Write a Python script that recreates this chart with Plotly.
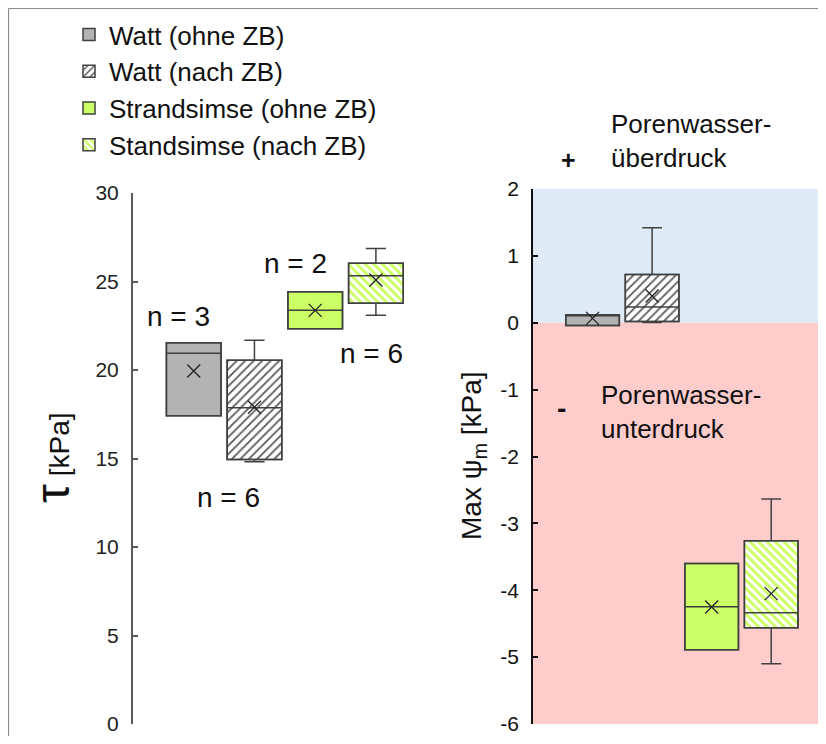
import plotly.graph_objects as go

# ---------------- data ----------------
series = ["Watt (ohne ZB)", "Watt (nach ZB)", "Strandsimse (ohne ZB)", "Standsimse (nach ZB)"]
positions = [1, 2, 3, 4]

# left panel: tau [kPa]
tau_lower = [17.42, 14.82, 22.33, 23.09]
tau_q1 = [17.42, 14.95, 22.33, 23.77]
tau_median = [20.94, 17.87, 23.37, 25.33]
tau_q3 = [21.54, 20.55, 24.42, 26.03]
tau_upper = [21.54, 21.68, 24.42, 26.87]
tau_mean = [19.94, 17.90, 23.37, 25.08]
n_labels = ["n = 3", "n = 6", "n = 2", "n = 6"]
n_label_x = [0.75, 1.58, 2.68, 3.93]
n_label_y = [23.0, 12.8, 26.0, 20.94]

# right panel: max psi_m [kPa]
psi_lower = [-0.04, 0.005, -4.89, -5.10]
psi_q1 = [-0.04, 0.02, -4.89, -4.56]
psi_median = [0.12, 0.235, -4.245, -4.335]
psi_q3 = [0.12, 0.72, -3.60, -3.26]
psi_upper = [0.12, 1.42, -3.60, -2.635]
psi_mean = [0.066, 0.40, -4.25, -4.05]

tau_ticks = [0, 5, 10, 15, 20, 25, 30]
psi_ticks = [-6, -5, -4, -3, -2, -1, 0, 1, 2]
psi_tick_labels = ["-6", "-5", "-4", "-3", "-2", "-1", "0", "1", "2"]

# ---------------- styles / geometry ----------------
FONT = "Liberation Sans, Arial, sans-serif"
fills = ["#b3b3b3", "white", "#ccff66", "white"]
pat_shape = ["", "/", "", "\\"]
pat_color = ["#b3b3b3", "#5a5a5a", "#ccff66", "#ccff66"]
pat_solid = [0.3, 0.3, 0.3, 0.5]
outline = "#404040"
BW = 0.9

# page has an 8px body margin; size the figure so it fits the 826x744 window
OX, OY = 8, 8
FW, FH = 818, 728
PB = 724          # page y of paper bottom
PH = PB - OY      # paper height in px
MB = FH - PH


def px(rx):
    return (rx - OX) / FW


def py(ry):
    return (PB - ry) / PH


fig = go.Figure()

panels = [
    ("x", "y", tau_lower, tau_q1, tau_median, tau_q3, tau_upper, tau_mean, True),
    ("x2", "y2", psi_lower, psi_q1, psi_median, psi_q3, psi_upper, psi_mean, False),
]

for xa, ya, lo, q1, med, q3, hi, mean, show in panels:
    for i, name in enumerate(series):
        fig.add_trace(go.Bar(
            x=[positions[i]], y=[q3[i] - q1[i]], base=[q1[i]], width=BW,
            name=name, legendgroup=name, showlegend=show,
            marker=dict(color=fills[i],
                        line=dict(color=outline, width=1.5),
                        pattern=dict(shape=pat_shape[i], fgcolor=pat_color[i],
                                     bgcolor="white", size=6, solidity=pat_solid[i],
                                     fillmode="replace") if pat_shape[i] else None),
            xaxis=xa, yaxis=ya, hoverinfo="skip",
        ))
    for i, name in enumerate(series):
        fig.add_trace(go.Box(
            x=[positions[i]], q1=[q1[i]], median=[med[i]], q3=[q3[i]],
            lowerfence=[lo[i]], upperfence=[hi[i]],
            width=BW, whiskerwidth=0.37, fillcolor="rgba(0,0,0,0)",
            line=dict(color=outline, width=1.5), boxpoints=False,
            showlegend=False, legendgroup=name, xaxis=xa, yaxis=ya, hoverinfo="skip",
        ))
    fig.add_trace(go.Scatter(
        x=positions, y=mean, mode="markers", showlegend=False,
        marker=dict(symbol="x-thin", size=13, line=dict(width=1.3, color="#222")),
        xaxis=xa, yaxis=ya, hoverinfo="skip",
    ))

shapes = [
    dict(type="rect", xref="x2 domain", x0=0, x1=1, yref="y2", y0=0, y1=2,
         fillcolor="#deebf7", line=dict(width=0), layer="below"),
    dict(type="rect", xref="x2 domain", x0=0, x1=1, yref="y2", y0=-6, y1=0,
         fillcolor="#ffcccc", line=dict(width=0), layer="below"),
    dict(type="line", xref="paper", yref="paper", x0=0.5 / FW, x1=1.01,
         y0=(PH - 0.5) / PH, y1=(PH - 0.5) / PH, line=dict(color="#8c8c8c", width=1.2)),
    dict(type="line", xref="paper", yref="paper", x0=0.5 / FW, x1=0.5 / FW,
         y0=-0.1, y1=(PH - 0.5) / PH, line=dict(color="#8c8c8c", width=1.2)),
]

annotations = []
for t, xx, yy in zip(n_labels, n_label_x, n_label_y):
    annotations.append(dict(text=t, x=xx, y=yy, xref="x", yref="y", showarrow=False,
                            xanchor="center", yanchor="middle",
                            font=dict(size=28, color="#111", family=FONT)))
annotations += [
    dict(text="<b>+</b>", x=px(568), y=py(160), xref="paper", yref="paper",
         xanchor="center", yanchor="middle", showarrow=False,
         font=dict(size=25, color="#111", family=FONT)),
    dict(text="Porenwasser-<br>überdruck", x=px(609), y=py(141), xref="paper", yref="paper",
         xanchor="left", yanchor="middle", align="left", showarrow=False,
         font=dict(size=26, color="#111", family=FONT)),
    dict(text="<b>-</b>", x=px(561), y=py(408), xref="paper", yref="paper",
         xanchor="center", yanchor="middle", showarrow=False,
         font=dict(size=28, color="#111", family=FONT)),
    dict(text="Porenwasser-<br>unterdruck", x=px(599), y=py(412), xref="paper", yref="paper",
         xanchor="left", yanchor="middle", align="left", showarrow=False,
         font=dict(size=26, color="#111", family=FONT)),
    dict(text="<span style='font-size:48px'>τ</span> [kPa]", x=px(52), y=py(458),
         xref="paper", yref="paper", textangle=-90, showarrow=False,
         xanchor="center", yanchor="middle",
         font=dict(size=28, color="#111", family=FONT)),
    dict(text="Max ψ<sub>m</sub> [kPa]", x=px(473), y=py(456),
         xref="paper", yref="paper", textangle=-90, showarrow=False,
         xanchor="center", yanchor="middle",
         font=dict(size=28, color="#111", family=FONT)),
]

fig.update_layout(
    width=FW, height=FH,
    margin=dict(l=0, r=0, t=0, b=MB, pad=0, autoexpand=False),
    paper_bgcolor="white", plot_bgcolor="rgba(0,0,0,0)",
    barmode="overlay", boxmode="overlay",
    font=dict(family=FONT, color="#111"),
    showlegend=True,
    legend=dict(x=px(69), y=py(11), xanchor="left", yanchor="top",
                font=dict(size=26, family=FONT, color="#111"),
                bgcolor="rgba(0,0,0,0)", tracegroupgap=0, itemwidth=30),
    xaxis=dict(domain=[px(133), px(433)], range=[0, 4.94], visible=False),
    yaxis=dict(domain=[0, py(193)], range=[0, 30], tickvals=tau_ticks,
               showline=True, linecolor="#595959", linewidth=2, ticks="inside",
               ticklen=5, tickcolor="#595959", tickwidth=1.5, showgrid=False, zeroline=False,
               tickfont=dict(size=21, color="#222", family=FONT), ticklabelstandoff=8),
    xaxis2=dict(domain=[px(533), 1], range=[0, 4.92], visible=False, anchor="y2"),
    yaxis2=dict(domain=[0, py(189)], range=[-6, 2], tickvals=psi_ticks,
                ticktext=psi_tick_labels, anchor="x2",
                showline=True, linecolor="#111", linewidth=1.5, ticks="inside",
                ticklen=5, tickcolor="#111", tickwidth=1.5, showgrid=False, zeroline=False,
                tickfont=dict(size=21, color="#111", family=FONT), ticklabelstandoff=8),
    shapes=shapes, annotations=annotations,
)

fig.write_html("out.html")
